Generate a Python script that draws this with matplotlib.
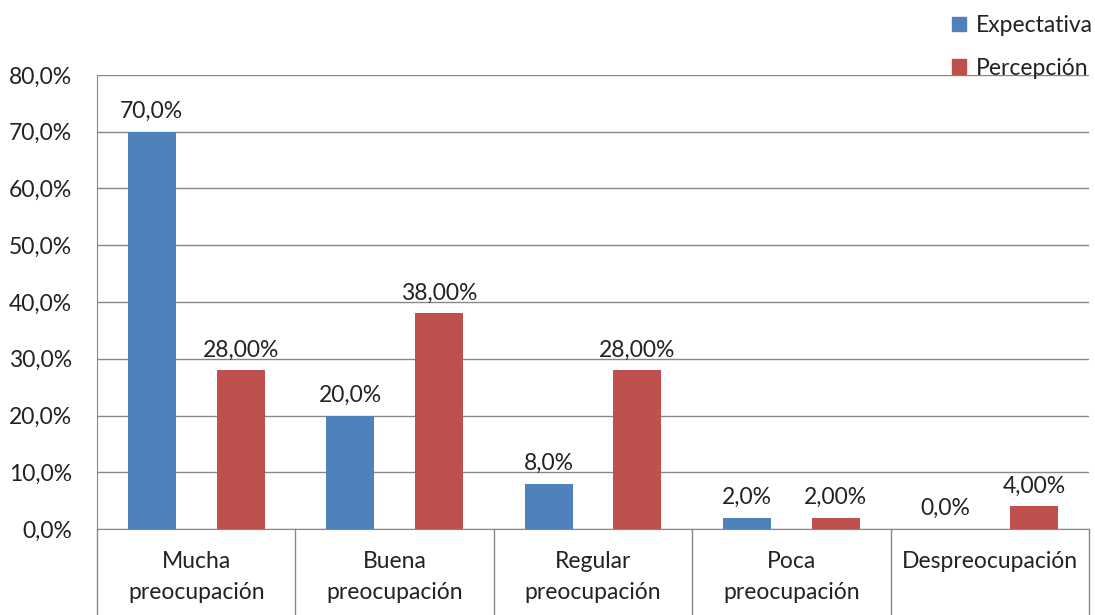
import matplotlib
matplotlib.use("Agg")
import matplotlib.pyplot as plt
from matplotlib.patches import Patch
import numpy as np

categories = ["Mucha\npreocupación", "Buena\npreocupación", "Regular\npreocupación",
              "Poca\npreocupación", "Despreocupación"]
expectativa = [70.0, 20.0, 8.0, 2.0, 0.0]
percepcion = [28.0, 38.0, 28.0, 2.0, 4.0]
series_names = ["Expectativa", "Percepción"]
yticks = [0, 10, 20, 30, 40, 50, 60, 70, 80]

plt.rcParams['font.family'] = ['Lato', 'DejaVu Sans']
FS = 16.5
TXT = '#222222'
GRID = '#888888'
BLUE = '#4F81BD'
RED = '#C0504D'

fig = plt.figure(figsize=(10.95, 6.15), dpi=100)
ax = fig.add_axes([97/1095, 1-529/615, 992/1095, 454/615])

x = np.arange(len(categories))
w = 0.242
off = 0.224
ax.bar(x - off, expectativa, w, color=BLUE, zorder=3)
ax.bar(x + off, percepcion, w, color=RED, zorder=3)

def fmt(v, d):
    return (f"{v:.{d}f}%").replace('.', ',')

for xi, v in zip(x, expectativa):
    ax.annotate(fmt(v, 1), (xi - off, v), xytext=(0, 7), textcoords='offset points',
                ha='center', va='bottom', fontsize=FS, color=TXT)
for xi, v in zip(x, percepcion):
    ax.annotate(fmt(v, 2), (xi + off, v), xytext=(0, 7), textcoords='offset points',
                ha='center', va='bottom', fontsize=FS, color=TXT)

ax.set_xlim(-0.5, len(categories) - 0.5)
ax.set_ylim(0, 80)
ax.set_yticks(yticks)
ax.set_yticklabels([fmt(t, 1) for t in yticks], fontsize=FS, color=TXT)
ax.yaxis.grid(True, color=GRID, linewidth=1, zorder=0)
ax.tick_params(axis='y', length=0, pad=18)
ax.set_xticks(x)
ax.set_xticklabels(categories, fontsize=FS, color=TXT, linespacing=1.55)
ax.tick_params(axis='x', length=0, pad=16)

for s in ['top', 'right']:
    ax.spines[s].set_visible(False)
ax.spines['left'].set_color(GRID)
ax.spines['bottom'].set_color(GRID)

# category separators extending below the axis
ext = -(615 - 529) / 454
trans = ax.get_xaxis_transform()
for b in np.arange(len(categories) + 1) - 0.5:
    ax.plot([b, b], [0, ext], transform=trans, color=GRID, linewidth=1, clip_on=False)

handles = [Patch(color=BLUE), Patch(color=RED)]
fig.legend(handles, series_names, loc='upper right', bbox_to_anchor=(1093/1095, 1 - 15/615),
           frameon=False, fontsize=FS, handlelength=0.6, handleheight=0.6,
           handletextpad=0.45, labelspacing=0.95, labelcolor=TXT,
           borderaxespad=0, borderpad=0)

fig.savefig("out.png", dpi=100)
